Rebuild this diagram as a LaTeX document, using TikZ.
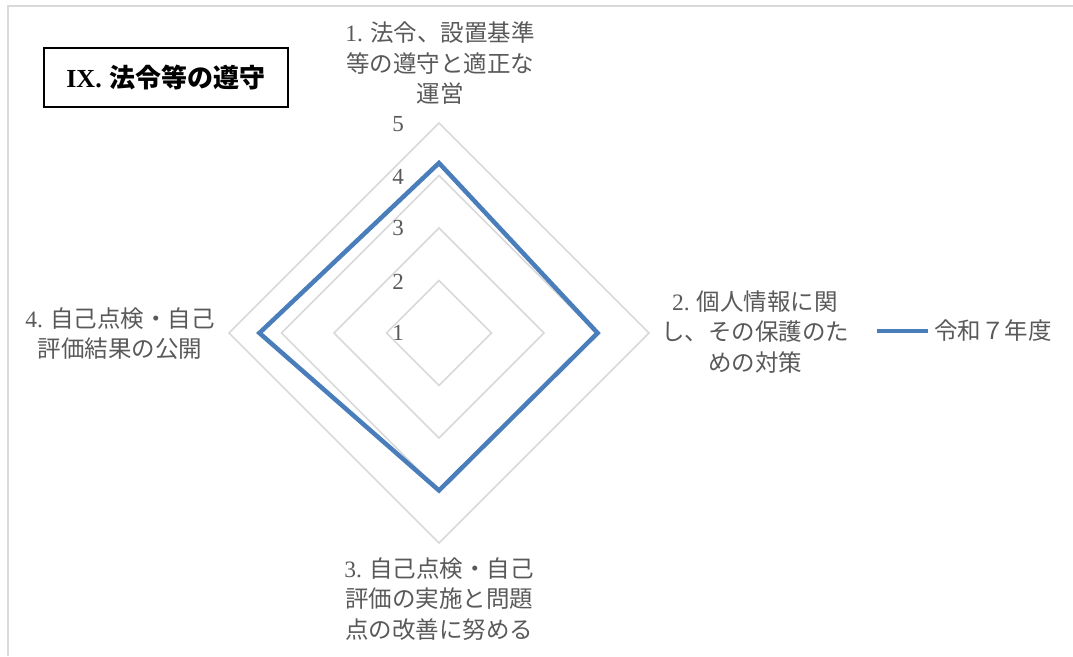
\documentclass[tikz,border=0pt]{standalone}
\usepackage{fontspec}
\newfontfamily\cjk{Noto Sans CJK JP}
\newfontfamily\timesf{Liberation Serif}
\definecolor{gridgray}{HTML}{D9D9D9}
\definecolor{framegray}{HTML}{D9D9D9}
\definecolor{serblue}{HTML}{4A7EBB}
\definecolor{labgray}{HTML}{595959}
\begin{document}
\begin{tikzpicture}[x=1pt,y=-1pt,
  grid/.style={draw=gridgray, line width=1.5pt},
  series/.style={draw=serblue, line width=4.5pt, line join=miter},
  axlabel/.style={text=labgray, align=center, font=\cjk\fontsize{23.5}{30.5}\selectfont, inner sep=0pt},
  ticklbl/.style={text=labgray, font=\timesf\fontsize{23}{23}\selectfont, inner sep=0pt},
  titlebox/.style={draw=black, line width=1.2pt, minimum width=244pt, minimum height=59pt, inner sep=0pt}]
\useasboundingbox (0,0) rectangle (1073,656);
% outer frame
\draw[framegray, line width=1.5pt] (1073,6) -- (8,6) -- (8,656);
% title
\node[titlebox] (title) at (166,77.5) {\fontsize{26}{26}\selectfont{\timesf\bfseries IX.} {\cjk\bfseries 法令等の遵守}};
% centre
\coordinate (O) at (439,333);
% grid diamonds
\foreach \r in {52.5,105,157.5,210} {
  \draw[grid] ([yshift=\r pt]O) -- ([xshift=\r pt]O) -- ([yshift=-\r pt]O) -- ([xshift=-\r pt]O) -- cycle;
}
% series vertices (yshift is upward on the canvas)
\coordinate (p1) at ([yshift=170pt]O);
\coordinate (p2) at ([xshift=158.6pt]O);
\coordinate (p3) at ([yshift=-157.5pt]O);
\coordinate (p4) at ([xshift=-179.6pt]O);
\draw[series] (p1) -- (p2) -- (p3) -- (p4) -- cycle;
% tick labels
\node[ticklbl] (t1) at (398,333) {1};
\node[ticklbl] (t2) at (398,282) {2};
\node[ticklbl] (t3) at (398,228) {3};
\node[ticklbl] (t4) at (398,177) {4};
\node[ticklbl] (t5) at (398,124) {5};
% axis labels
\node[axlabel] (a1) at (440,63.5) {{\timesf 1.} 法令、設置基準\\等の遵守と適正な\\運営};
\node[axlabel] (a2) at (755,332) {{\timesf 2.} 個人情報に関\\し、その保護のた\\めの対策};
\node[axlabel] (a3) at (439,599) {{\timesf 3.} 自己点検・自己\\評価の実施と問題\\点の改善に努める};
\node[axlabel] (a4) at (120,333.5) {{\timesf 4.} 自己点検・自己\\評価結果の公開};
% legend
\coordinate (l1) at (877,331);
\coordinate (l2) at (928,331);
\draw[series, line width=4pt] (l1) -- (l2);
\node[axlabel, anchor=west] (leg) at (934,331) {令和７年度};
\end{tikzpicture}
\end{document}
